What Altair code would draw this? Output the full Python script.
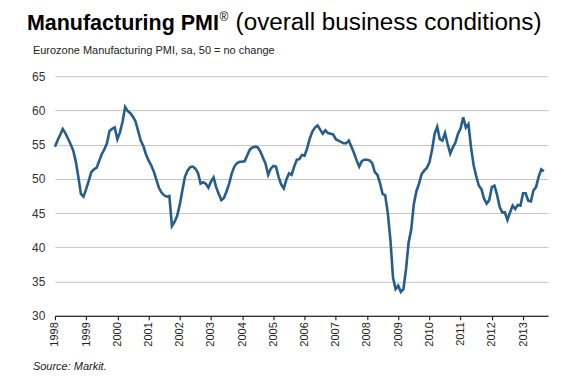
import altair as alt
import pandas as pd

FONT = "Liberation Sans, Arial, sans-serif"

YEARS = list(range(1998, 2014))
PMI_1998 = [54.7, 55.6, 56.4, 57.3, 56.7, 55.9, 55.1, 54.2, 52.6, 50.3, 47.8, 47.4]
PMI_1999 = [48.5, 49.7, 51.0, 51.4, 51.6, 52.6, 53.6, 54.3, 55.2, 57.0, 57.3, 57.5]
PMI_2000 = [55.8, 56.8, 58.3, 60.5, 59.9, 59.6, 59.1, 58.4, 57.0, 55.6, 54.8, 53.6]
PMI_2001 = [52.7, 52.0, 51.1, 49.9, 48.7, 48.0, 47.6, 47.4, 47.5, 43.1, 43.7, 44.6]
PMI_2002 = [46.2, 48.3, 50.3, 51.2, 51.7, 51.8, 51.5, 50.9, 49.3, 49.5, 49.3, 48.7]
PMI_2003 = [49.6, 50.2, 48.8, 47.8, 46.9, 47.2, 48.2, 49.3, 50.8, 51.8, 52.3, 52.5]
PMI_2004 = [52.5, 52.6, 53.5, 54.3, 54.6, 54.7, 54.6, 54.0, 53.1, 52.2, 50.6, 51.5]
PMI_2005 = [51.9, 51.8, 50.3, 49.2, 48.6, 49.9, 50.8, 50.6, 51.8, 52.8, 52.9, 53.5]
PMI_2006 = [53.4, 54.5, 55.9, 56.9, 57.5, 57.8, 57.2, 56.6, 57.1, 56.7, 56.6, 56.5]
PMI_2007 = [55.8, 55.6, 55.4, 55.2, 55.2, 55.6, 54.7, 53.8, 52.7, 51.8, 52.6, 52.8]
PMI_2008 = [52.8, 52.7, 52.3, 51.0, 50.6, 49.4, 47.8, 47.6, 45.0, 41.1, 35.6, 33.9]
PMI_2009 = [34.4, 33.5, 33.9, 36.8, 40.7, 42.6, 46.3, 48.2, 49.3, 50.7, 51.2, 51.6]
PMI_2010 = [52.4, 54.2, 56.6, 57.6, 55.8, 55.6, 56.7, 55.1, 53.7, 54.6, 55.3, 56.6]
PMI_2011 = [57.4, 59.0, 57.5, 58.0, 54.6, 52.0, 50.4, 49.0, 48.5, 47.1, 46.4, 46.9]
PMI_2012 = [48.8, 49.0, 47.7, 45.9, 45.1, 45.1, 44.0, 45.1, 46.1, 45.6, 46.2, 46.1]
PMI_2013 = [47.9, 47.9, 46.8, 46.7, 48.3, 48.8, 50.3, 51.4, 51.1]

SERIES = [PMI_1998, PMI_1999, PMI_2000, PMI_2001, PMI_2002, PMI_2003, PMI_2004,
          PMI_2005, PMI_2006, PMI_2007, PMI_2008, PMI_2009, PMI_2010, PMI_2011,
          PMI_2012, PMI_2013]

Y_TICKS = [30, 35, 40, 45, 50, 55, 60, 65]

TITLE_BOLD = "Manufacturing PMI"
TITLE_REG = "®"
TITLE_REST = "(overall business conditions)"
SUBTITLE = "Eurozone Manufacturing PMI,  sa, 50 = no change"
SOURCE = "Source: Markit."

rows = []
for yr, vals in zip(YEARS, SERIES):
    for m, v in enumerate(vals):
        rows.append({"t": yr + m / 12.0, "pmi": v})
df = pd.DataFrame(rows)

line = alt.Chart(df).mark_line(color="#255d8c", strokeWidth=2.6).encode(
    x=alt.X("t:Q",
            scale=alt.Scale(domain=[1998, 2013.8], nice=False, zero=False),
            axis=alt.Axis(values=YEARS, format="d", labelAngle=-90, title=None,
                          grid=False, domainColor="#000000", tickColor="#000000",
                          tickSize=4, labelPadding=2, labelFont=FONT,
                          labelFontSize=11, labelColor="#222222",
                          labelFlush=False, labelOverlap=False, labelBound=False,
                          zindex=1)),
    y=alt.Y("pmi:Q",
            scale=alt.Scale(domain=[30, 65], nice=False, zero=False),
            axis=alt.Axis(values=Y_TICKS, title=None, grid=True,
                          gridColor="#c4c4c4", gridWidth=1, domain=False,
                          ticks=False, labelPadding=10, labelFont=FONT,
                          labelFontSize=12, labelColor="#333333")),
)


def label(txt, x, y, size, weight="normal", style="normal", color="#000000"):
    return alt.Chart(pd.DataFrame({"s": [txt]})).mark_text(
        align="left", baseline="alphabetic", font=FONT, fontSize=size,
        fontWeight=weight, fontStyle=style, color=color
    ).encode(x=alt.value(x), y=alt.value(y), text="s:N")


texts = [
    label(TITLE_BOLD, -28, -46, 21.5, weight="bold"),
    label(TITLE_REG, 165, -55, 12),
    label(TITLE_REST, 181, -46, 24.3),
    label(SUBTITLE, -22, -22, 11, color="#222222"),
    label(SOURCE, -22, 294, 11, style="italic", color="#222222"),
]

chart = alt.layer(line, *texts).properties(
    width=494, height=240,
    autosize=alt.AutoSizeParams(type="none"),
    padding={"left": 47, "top": 68, "right": 8, "bottom": 62},
).configure_view(stroke=None)

chart.save("out.html", embed_options={"renderer": "svg", "actions": False})
